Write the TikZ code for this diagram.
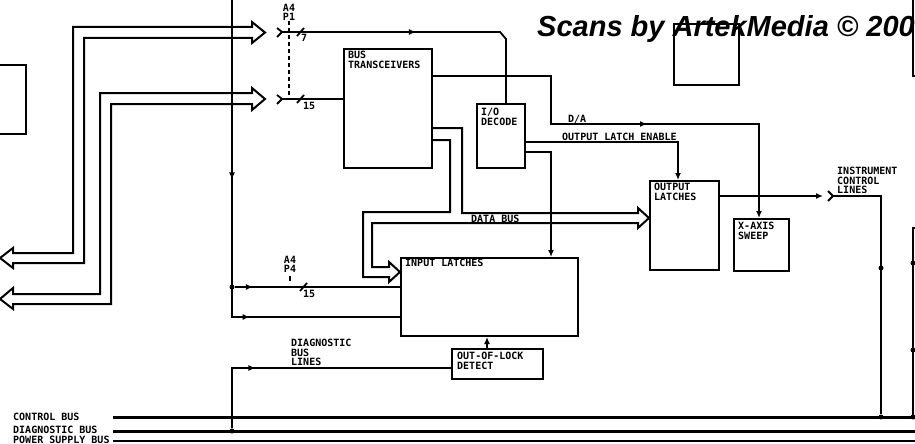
\documentclass[tikz,border=0pt]{standalone}
\usepackage{fontspec}
\setmainfont{Liberation Sans}
\setmonofont{DejaVu Sans Mono}
\usetikzlibrary{arrows.meta,decorations.markings}
\begin{document}
\begin{tikzpicture}[x=1pt, y=-1pt,
    box/.style={draw, line width=2pt, anchor=north west, inner sep=0pt},
    lbl/.style={font=\ttfamily\bfseries\fontsize{10}{9.5}\selectfont, inner sep=0pt, align=left},
    wire/.style={line width=1.8pt},
    bus/.style={line width=2pt, line join=miter},
    mainbus/.style={line width=3pt},
    tip/.style={-{Latex[length=7pt,width=6pt]}},
    midarr/.style={postaction={decorate, decoration={markings,
        mark=at position #1 with {\arrow{Latex[length=7pt,width=6pt]}}}}},
    dot/.style={circle, fill, inner sep=0pt, minimum size=5pt},
    mate/.style={line width=1.8pt}]
    \useasboundingbox (0,0) rectangle (915,444);

    % 方框
    \node[box, minimum width=88pt, minimum height=119pt] (bt) at (343,48) {};
    \node[lbl, anchor=north west] at ([shift={(5pt,-3pt)}]bt.north west) {BUS\\TRANSCEIVERS};
    \node[box, minimum width=48pt, minimum height=64pt] (iod) at (476,103) {};
    \node[lbl, anchor=north west] at ([shift={(5pt,-5pt)}]iod.north west) {I/O\\DECODE};
    \node[box, minimum width=69pt, minimum height=89pt] (outl) at (649,180) {};
    \node[lbl, anchor=north west] at ([shift={(5pt,-3pt)}]outl.north west) {OUTPUT\\LATCHES};
    \node[box, minimum width=55pt, minimum height=52pt] (xax) at (733,218) {};
    \node[lbl, anchor=north west] at ([shift={(5pt,-4pt)}]xax.north west) {X-AXIS\\SWEEP};
    \node[box, minimum width=177pt, minimum height=78pt] (inl) at (400,257) {};
    \node[lbl, anchor=north west] at ([shift={(5pt,-2pt)}]inl.north west) {INPUT LATCHES};
    \node[box, minimum width=91pt, minimum height=30pt] (ool) at (451,348) {};
    \node[lbl, anchor=north west] at ([shift={(6pt,-4pt)}]ool.north west) {OUT-OF-LOCK\\DETECT};
    \node[box, minimum width=65pt, minimum height=61pt] (outp) at (673,23) {};

    % 边缘的方框
    \draw[line width=2pt] (0,65) -| (26,134) -- (0,134);
    \draw[line width=2pt] (913,0) |- (915,76);
    \draw[line width=2pt] (915,228) -| (913,417);

    % 左边的总线
    \draw[bus] (0,258) -- (13,248) -- (13,253) -- (73,253) -- (73,27) -- (252,27) -- (252,22)
        -- (265,32.5) -- (252,43) -- (252,38) -- (84,38) -- (84,263) -- (13,263) -- (13,268) -- cycle;
    \draw[bus] (0,299) -- (13,288) -- (13,294) -- (100,294) -- (100,93) -- (252,93) -- (252,88)
        -- (265,99) -- (252,110) -- (252,104) -- (111,104) -- (111,304) -- (13,304) -- (13,309) -- cycle;

    % 数据总线
    \draw[bus] (bt.east |- 0,128) -- (462,128) -- (462,213) -- (638,213) -- (638,208)
        -- (outl.west |- 0,218) -- (638,228) -- (638,223) -- (372,223) -- (372,267) -- (389,267)
        -- (389,262) -- (inl.west |- 0,272) -- (389,282) -- (389,277) -- (363,277) -- (363,212)
        -- (450,212) -- (450,140) -- (bt.east |- 0,140);

    % 插头 A4 P1 / A4 P4
    \coordinate (p1a) at (282,32);
    \coordinate (p1b) at (282,99);
    \draw[mate] (277,28) -- (p1a) -- (277,37);
    \draw[mate] (277,95) -- (p1b) -- (277,104);
    \draw[line width=1.5pt] (289,21) -- (289,25);
    \draw[line width=1.5pt, dash pattern=on 4pt off 3pt] (289,28) -- (289,97);
    \draw[line width=1.5pt] (290,276) -- (290,281);
    \draw[wire] (297,36) -- (304,28);
    \draw[wire] (297,103) -- (304,95);
    \draw[wire] (300,291) -- (307,283);
    \node[lbl, align=center, anchor=south] (p1) at (289,21) {A4\\P1};
    \node[lbl, align=center, anchor=south] (p4) at (290,273) {A4\\P4};
    \node[lbl, anchor=base west] at (301,42) {7};
    \node[lbl, anchor=base west] at (303,109) {15};
    \node[lbl, anchor=base west] at (303,297) {15};

    % 连线
    \coordinate (top) at (232,0);
    \node[dot] (j1) at (232,287) {};
    \node[dot] (j2) at (232,431) {};
    \draw[wire, midarr=0.37, midarr=0.69] (top) -- (232,317) -- (inl.west |- 0,317);
    \draw[wire, midarr=0.11] (j1) -- (inl.west |- j1);
    \draw[wire, midarr=0.3] (j2) |- (ool.west |- 0,368);
    \draw[wire, midarr=0.46] (p1a) -- (500,32) -- (506,39) -- (iod.north -| 506,0);
    \draw[wire] (p1b) -- (bt.west |- p1b);
    \draw[wire, tip, midarr=0.56] (bt.east |- 0,76) -- (551,76) -- (551,124)
        -- ([xshift=-2.5pt]xax.north |- 0,124) -- ([xshift=-2.5pt]xax.north);
    \draw[wire, tip] (iod.east |- 0,142) -| ([xshift=-6.5pt]outl.north);
    \draw[wire, tip] (iod.east |- 0,152) -| (inl.north -| 551,0);
    \draw[wire, tip] (ool.north -| 487,0) -- (inl.south -| 487,0);

    % 仪器控制线
    \draw[wire, tip] (outl.east |- 0,196) -- (823,196);
    \draw[mate] (828,191) -- (833,196) -- (828,201);
    \node[dot] (j3) at (881,417) {};
    \node[dot] (j4) at (881,268) {};
    \draw[wire] (833,196) -| (j3);
    \node[dot] (j5) at (913,263) {};
    \node[dot] (j6) at (913,350) {};
    \node[dot] (j7) at (913,417) {};

    % 底部总线
    \draw[mainbus] (113,417) -- (915,417);
    \draw[mainbus] (113,431) -- (915,431);
    \draw[wire] (113,441) -- (915,441);

    % 标签
    \node[lbl, anchor=base west] at (568,122) {D/A};
    \node[lbl, anchor=base west] at (562,140) {OUTPUT LATCH ENABLE};
    \node[lbl, anchor=base west] at (471,222) {DATA BUS};
    \node[lbl, anchor=south west] at (837,194) {INSTRUMENT\\CONTROL\\LINES};
    \node[lbl, anchor=south west] at (291,366) {DIAGNOSTIC\\BUS\\LINES};
    \node[lbl, anchor=base west] at (13,420) {CONTROL BUS};
    \node[lbl, anchor=base west] at (13,433) {DIAGNOSTIC BUS};
    \node[lbl, anchor=base west] at (13,443) {POWER SUPPLY BUS};
    \node[font=\fontsize{29}{30}\selectfont\bfseries\itshape, anchor=base west, inner sep=0pt]
        at (537,37) {Scans by ArtekMedia © 200};
\end{tikzpicture}
\end{document}
